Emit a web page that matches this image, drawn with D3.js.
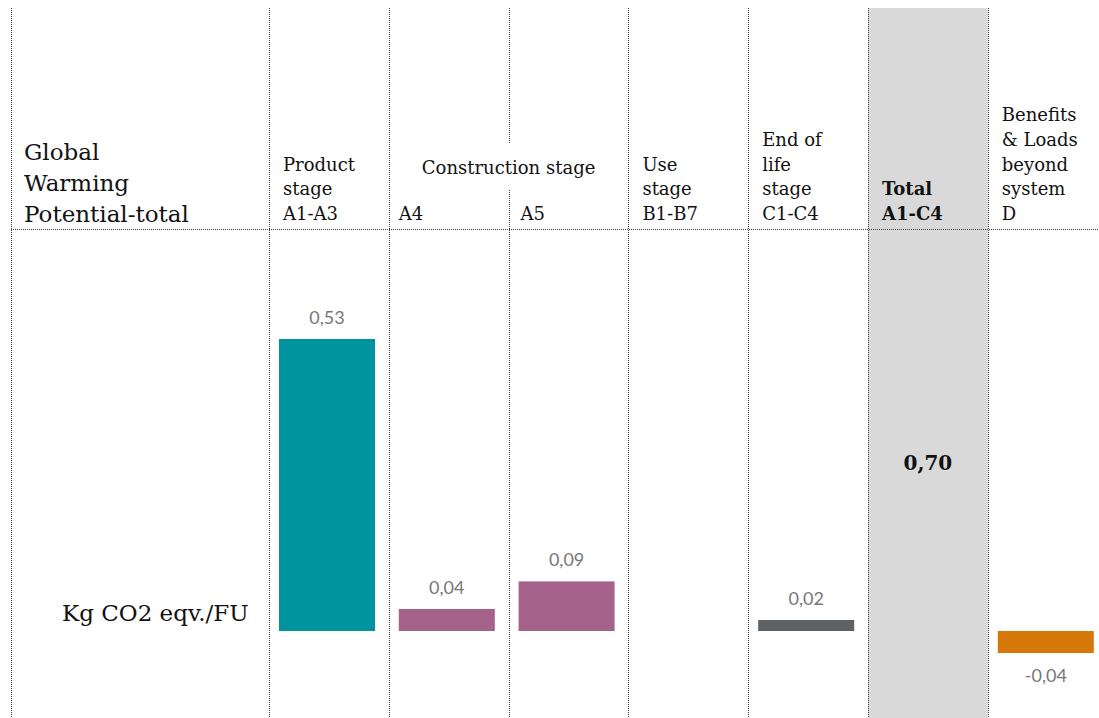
<!DOCTYPE html>
<html><head><meta charset="utf-8">
<script src="https://cdn.jsdelivr.net/npm/d3@7"></script>
<style>html,body{margin:0;padding:0;background:#fff;}svg{display:block;}</style>
</head><body>
<svg id="c" width="1099" height="718"></svg>
<script>
const categories = ["A1-A3","A4","A5","B1-B7","C1-C4","Total","D"];
const values = [0.53, 0.04, 0.09, null, 0.02, null, -0.04];
const valueLabels = ["0,53","0,04","0,09","","0,02","","-0,04"];
const barColors = ["#00949f","#a5628a","#a5628a",null,"#5e6265",null,"#d67709"];
const headerLines = [
  ["Product","stage","A1-A3"],
  ["A4"],
  ["A5"],
  ["Use","stage","B1-B7"],
  ["End of","life","stage","C1-C4"],
  ["Total","A1-C4"],
  ["Benefits","& Loads","beyond","system","D"]
];
const totalLabel = "0,70";
const titleLines = ["Global","Warming","Potential-total"];
const unitLabel = "Kg CO2 eqv./FU";
const groupLabel = "Construction stage";

const svg = d3.select("#c");
const serif = "'DejaVu Serif','Liberation Serif',serif";
const sans = "Lato,'Open Sans',sans-serif";

const x = d3.scaleBand().domain(categories).range([269, 269 + 7*119.8]).paddingInner(0).paddingOuter(0);
const y = d3.scaleLinear().domain([0, 0.53]).range([631, 339]);

// total column shading
svg.append("rect").attr("x", x("Total")).attr("y", 8).attr("width", x.bandwidth()).attr("height", 710).attr("fill", "#d9d9d9");

const dot = {stroke:"#444", "stroke-width":1, "stroke-dasharray":"1,1"};
function line(x1,y1,x2,y2){
  const l = svg.append("line").attr("x1",x1).attr("y1",y1).attr("x2",x2).attr("y2",y2);
  Object.entries(dot).forEach(([k,v])=>l.attr(k,v));
}
// left border
line(11.5, 8, 11.5, 718);
// vertical separators
categories.forEach((c,i)=>{
  const xx = Math.round(x(c)) + 0.5;
  if (c === "A5") { line(xx, 8, xx, 143); line(xx, 190, xx, 718); }
  else line(xx, 8, xx, 718);
});
// horizontal rule
line(11, 229.5, 1099, 229.5);

// title
svg.append("text").attr("font-family", serif).attr("font-size", 23).attr("fill", "#111")
  .selectAll("tspan").data(titleLines).join("tspan")
  .attr("x", 24).attr("y", (d,i)=>160 + i*31).text(d=>d);
svg.append("text").attr("font-family", serif).attr("font-size", 23).attr("fill", "#111")
  .attr("x", 62).attr("y", 621).text(unitLabel);

// headers
headerLines.forEach((lines, i)=>{
  const c = categories[i];
  const n = lines.length;
  svg.append("text").attr("font-family", serif).attr("font-size", 18).attr("fill", "#111")
    .attr("font-weight", c === "Total" ? "bold" : "normal")
    .selectAll("tspan").data(lines).join("tspan")
    .attr("x", x(c) + (c==="A5"?12:(c==="A4"?10:14))).attr("y", (d,j)=>220 - (n-1-j)*24.7).text(d=>d);
});
svg.append("text").attr("font-family", serif).attr("font-size", 18).attr("fill", "#111")
  .attr("text-anchor","middle").attr("x", x("A5")).attr("y", 174).text(groupLabel);

// bars
categories.forEach((c,i)=>{
  const v = values[i];
  if (v === null) return;
  const bx = x(c) + 10, bw = 96;
  svg.append("rect").attr("x", bx).attr("width", bw)
    .attr("y", y(Math.max(0,v))).attr("height", Math.abs(y(v)-y(0)))
    .attr("fill", barColors[i]);
  const ly = v >= 0 ? y(v) - 15 : y(v) + 29;
  svg.append("text").attr("font-family", sans).attr("font-size", 18).attr("fill", "#777")
    .attr("text-anchor","middle").attr("x", bx + bw/2).attr("y", ly).text(valueLabels[i]);
});

// total value
svg.append("text").attr("font-family", serif).attr("font-size", 20).attr("font-weight","bold").attr("fill","#111")
  .attr("text-anchor","middle").attr("x", x("Total") + x.bandwidth()/2).attr("y", 470).text(totalLabel);
</script>
</body></html>
